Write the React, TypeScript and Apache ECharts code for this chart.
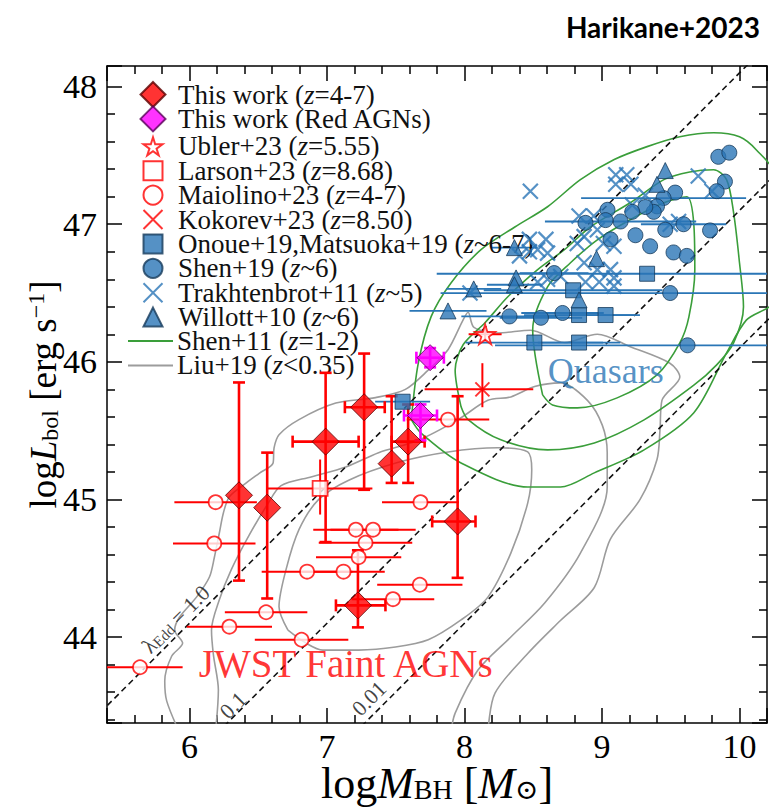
import React, { useEffect, useRef } from 'react';
import * as echarts from 'echarts';

const SERIF = "'Liberation Serif', 'DejaVu Serif', serif";
const X_MIN = 5.4;
const X_MAX = 10.2;
const Y_MIN = 43.375;
const Y_MAX = 48.15;

const RED = '#ff0000';
const MAGENTA = '#ff00ff';
const BLUE = '#2a76b6';
const BLUE_EDGE = '#15395a';
const GREEN = '#3a9e3a';
const GRAY = '#9c9c9c';

// [logM, logL, xErrLo, xErrHi, yErrLo, yErrHi]
const thisWork = [
  [6.36, 45.03, 0, 0, 0.62, 0.82],
  [6.565, 44.94, 0, 0, 0.66, 0.4],
  [6.99, 45.42, 0.24, 0.24, 0.73, 0.5],
  [7.27, 45.67, 0.14, 0.15, 0.6, 0.39],
  [7.59, 45.42, 0.12, 0.12, 0.3, 0.27],
  [7.47, 45.26, 0, 0, 0.14, 0.49],
  [7.95, 44.84, 0.185, 0.13, 0.41, 0.91],
  [7.225, 44.23, 0.16, 0.2, 0.16, 0.4],
];
const redAGN = [
  [7.75, 46.03, 0.1, 0.1, 0.07, 0.07],
  [7.68, 45.61, 0.12, 0.12, 0.18, 0.08],
];
const ubler = [[8.15, 46.2, 0.12, 0.12, 0.05, 0.05]];
const larson = [[6.95, 45.08, 0.38, 0.38, 0.19, 0.21]];
const kokorev = [[8.13, 45.8, 0.42, 0.37, 0.13, 0.19]];
// [logM, logL, xErr]
const maiolino = [
  [6.19, 44.98, 0.3], [6.18, 44.68, 0.3], [6.855, 44.475, 0.33], [7.12, 44.475, 0.3],
  [6.557, 44.18, 0.3], [6.29, 44.075, 0.31], [6.815, 43.98, 0.34], [5.64, 43.78, 0.31],
  [7.21, 44.78, 0.31], [7.335, 44.78, 0.31], [7.28, 44.685, 0.34], [7.23, 44.58, 0.31],
  [7.675, 44.38, 0.31], [7.48, 44.275, 0.3], [7.68, 44.98, 0.28], [7.88, 45.58, 0.3],
];
const onoue = [
  [9.328, 46.64, 1.53], [8.79, 46.52, 0.65], [8.833, 46.34, 0.4], [9.026, 46.34, 0.25],
  [8.508, 46.14, 0.5], [8.833, 46.14, 0.3], [7.55, 45.71, 0.2],
];
const shen19 = [
  [9.846, 47.49, 0], [9.926, 47.52, 0], [9.894, 47.31, 0], [9.834, 47.24, 0],
  [9.532, 47.23, 0], [9.448, 47.19, 0.6], [9.4, 47.13, 0], [9.376, 47.09, 0],
  [9.315, 47.125, 0], [9.22, 47.09, 0], [9.135, 47.02, 0.55], [9.04, 47.105, 0],
  [9.026, 47.03, 0], [8.88, 47.01, 0], [9.46, 46.96, 0], [9.593, 47.0, 0.31],
  [9.786, 46.955, 0], [9.243, 46.92, 0], [9.062, 46.89, 0], [9.35, 46.84, 0],
  [9.52, 46.795, 0], [9.617, 46.77, 0], [8.652, 46.645, 0.25], [9.496, 46.5, 1.67],
  [8.327, 46.33, 0.35], [8.556, 46.32, 0.3], [8.713, 46.355, 0.3], [9.622, 46.12, 1.4],
];
const trakhtenbrot = [
  [8.479, 47.24], [9.18, 47.36], [9.1, 47.36], [9.21, 47.29], [9.1, 47.29], [9.7, 47.35],
  [9.8, 47.24], [9.557, 47.02], [9.496, 47.0], [8.833, 47.06], [8.94, 47.06], [9.22, 47.14],
  [9.315, 47.21], [8.966, 46.96], [8.87, 46.91], [8.82, 46.86], [9.01, 46.86], [9.087, 46.84],
  [8.472, 46.89], [8.592, 46.89], [8.532, 46.815], [8.604, 46.79], [8.472, 46.8], [8.87, 46.72],
  [8.966, 46.67], [9.062, 46.67], [8.604, 46.6], [8.532, 46.58], [8.88, 46.58], [8.98, 46.58],
  [9.087, 46.61], [9.087, 46.55], [8.7, 46.62], [8.04, 46.5], [8.4, 46.77],
];
const willott = [
  [9.46, 47.39, 0], [9.4, 47.29, 0], [8.363, 46.83, 0.17], [8.067, 46.53, 0.2],
  [7.88, 46.37, 0.28], [8.375, 46.61, 0], [8.363, 46.56, 0.2], [8.96, 46.75, 0], [8.833, 46.45, 0],
];

const liuOuter = [
  [5.93, 43.3], [5.834, 43.536], [5.82, 43.68], [5.87, 43.86], [5.95, 43.956], [5.892, 44.05],
  [5.928, 44.145], [6.051, 44.29], [6.145, 44.436], [6.181, 44.58], [6.217, 44.756], [6.246, 44.9],
  [6.29, 45.02], [6.413, 45.12], [6.507, 45.19], [6.608, 45.265], [6.615, 45.375], [6.651, 45.47],
  [6.796, 45.58], [7.064, 45.7], [7.353, 45.74], [7.57, 45.8], [7.736, 45.94], [7.881, 46.09],
  [7.99, 46.305], [8.026, 46.36], [8.069, 46.25], [8.243, 46.21], [8.481, 46.23], [8.727, 46.14],
  [8.966, 46.2], [9.205, 46.11], [9.494, 45.99], [9.566, 45.89], [9.436, 45.72], [9.422, 45.51],
  [9.4, 45.29], [9.277, 45.0], [9.06, 44.71], [8.944, 44.36], [8.698, 44.12], [8.46, 43.88],
  [8.221, 43.59], [8.17, 43.3],
];
const liuMiddle = [
  [6.188, 43.3], [6.21, 43.615], [6.174, 43.87], [6.16, 44.05], [6.217, 44.27], [6.304, 44.49],
  [6.434, 44.74], [6.565, 44.96], [6.666, 45.1], [6.89, 45.165], [7.136, 45.236], [7.375, 45.34],
  [7.664, 45.43], [7.953, 45.58], [8.17, 45.72], [8.337, 45.745], [8.51, 45.82], [8.698, 45.847],
  [8.894, 45.72], [9.002, 45.54], [9.038, 45.34], [9.038, 45.09], [8.843, 44.61], [8.583, 44.247],
  [8.337, 44.0], [8.098, 43.76], [7.932, 43.447], [7.9, 43.3],
];
const liuInner = [
  [6.716, 44.05], [6.651, 44.22], [6.702, 44.49], [6.796, 44.78], [6.94, 45.0], [7.158, 45.14],
  [7.519, 45.27], [7.881, 45.345], [8.243, 45.375], [8.46, 45.345], [8.489, 45.215], [8.46, 44.975],
  [8.337, 44.61], [8.17, 44.29], [7.975, 44.124], [7.736, 43.98], [7.498, 43.927], [7.23, 43.905],
  [6.97, 43.905], [6.847, 43.956], [6.716, 44.05],
];
const shenOuter = [
  [7.613, 45.58], [7.664, 45.99], [7.758, 46.33], [7.903, 46.575], [8.12, 46.815], [8.366, 46.98],
  [8.604, 47.127], [8.843, 47.324], [9.089, 47.47], [9.328, 47.564], [9.566, 47.636], [9.812, 47.665],
  [10.0, 47.636], [10.123, 47.54], [10.25, 47.36], [10.25, 46.45], [10.051, 46.305], [9.906, 46.065],
  [9.668, 45.63], [9.306, 45.36], [8.944, 45.193], [8.698, 45.09], [8.46, 45.09], [7.975, 45.265],
  [7.686, 45.48], [7.613, 45.58],
];
const shenMiddle = [
  [7.975, 45.673], [7.932, 45.94], [7.99, 46.124], [8.149, 46.284], [8.315, 46.473], [8.532, 46.67],
  [8.727, 46.815], [8.915, 46.98], [9.205, 47.156], [9.45, 47.324], [9.638, 47.38], [9.812, 47.396],
  [9.906, 47.324], [9.957, 47.084], [10.0, 46.72], [10.029, 46.4], [9.957, 46.138], [9.834, 45.978],
  [9.668, 45.83], [9.306, 45.578], [8.944, 45.41], [8.604, 45.36], [8.264, 45.433], [8.026, 45.58],
  [7.975, 45.673],
];
const shenInner = [
  [8.568, 45.76], [8.496, 46.233], [8.604, 46.545], [8.771, 46.72], [8.966, 46.887], [9.205, 47.033],
  [9.45, 47.156], [9.617, 47.2], [9.668, 46.996], [9.675, 46.67], [9.632, 46.327], [9.566, 46.138],
  [9.4, 45.905], [9.11, 45.738], [8.821, 45.665], [8.64, 45.687], [8.568, 45.76],
];
const eddLines = [
  [[5.3, 43.4], [10.1, 48.2]],
  [[6.2, 43.3], [10.3, 47.4]],
  [[7.2, 43.3], [10.3, 46.4]],
];
const eddLabels = [
  { text: '\u03bb{sub|Edd} = 1.0', pos: [5.9, 44.13] },
  { text: '0.1', pos: [6.316, 43.505] },
  { text: '0.01', pos: [7.305, 43.554] },
];

const STAR = 'path://M50,0 L61,35 L98,35 L68,57 L79,91 L50,70 L21,91 L32,57 L2,35 L39,35 Z';
const CROSS = 'path://M0,0 L10,10 M10,0 L0,10';

const full = (rows: number[][]) => rows.map((r) => [r[0], r[1], r[2] || 0, r[2] || 0, 0, 0]);

function errorBars(rows: number[][], color: string, lineWidth: number, cap: number, z: number) {
  return {
    type: 'custom',
    silent: true,
    clip: true,
    z,
    data: rows,
    encode: { x: 0, y: 1 },
    renderItem: (params: any, api: any) => {
      const x = api.value(0);
      const y = api.value(1);
      const xl = api.value(2);
      const xh = api.value(3);
      const yl = api.value(4);
      const yh = api.value(5);
      const style = { stroke: color, lineWidth };
      const children: any[] = [];
      if (xl > 0 || xh > 0) {
        const a = api.coord([Math.max(x - xl, X_MIN - 0.05), y]);
        const b = api.coord([Math.min(x + xh, X_MAX + 0.05), y]);
        children.push({ type: 'line', shape: { x1: a[0], y1: a[1], x2: b[0], y2: b[1] }, style });
        if (cap > 0) {
          children.push({ type: 'line', shape: { x1: a[0], y1: a[1] - cap, x2: a[0], y2: a[1] + cap }, style });
          children.push({ type: 'line', shape: { x1: b[0], y1: b[1] - cap, x2: b[0], y2: b[1] + cap }, style });
        }
      }
      if (yl > 0 || yh > 0) {
        const a = api.coord([x, y - yl]);
        const b = api.coord([x, y + yh]);
        children.push({ type: 'line', shape: { x1: a[0], y1: a[1], x2: b[0], y2: b[1] }, style });
        if (cap > 0) {
          children.push({ type: 'line', shape: { x1: a[0] - cap, y1: a[1], x2: a[0] + cap, y2: a[1] }, style });
          children.push({ type: 'line', shape: { x1: b[0] - cap, y1: b[1], x2: b[0] + cap, y2: b[1] }, style });
        }
      }
      return { type: 'group', children };
    },
  };
}

const contour = (name: string, pts: number[][], color: string) => ({
  type: 'line',
  name,
  data: pts,
  symbol: 'none',
  smooth: 0.3,
  clip: true,
  silent: true,
  z: 1,
  lineStyle: { color, width: 1.6 },
  itemStyle: { color },
});

const pt = (rows: number[][]) => rows.map((r) => [r[0], r[1]]);

// legend rows: name and icon kind
const LEGEND_ROWS = [
  { name: 'This work (z=4-7)', kind: 'big' },
  { name: 'This work (Red AGNs)', kind: 'big' },
  { name: 'Ubler+23 (z=5.55)', kind: 'mark' },
  { name: 'Larson+23 (z=8.68)', kind: 'mark' },
  { name: 'Maiolino+23 (z=4-7)', kind: 'mark' },
  { name: 'Kokorev+23 (z=8.50)', kind: 'mark' },
  { name: 'Onoue+19,Matsuoka+19 (z~6-7)', kind: 'mark' },
  { name: 'Shen+19 (z~6)', kind: 'mark' },
  { name: 'Trakhtenbrot+11 (z~5)', kind: 'mark' },
  { name: 'Willott+10 (z~6)', kind: 'mark' },
  { name: 'Shen+11 (z=1-2)', kind: 'line' },
  { name: 'Liu+19 (z<0.35)', kind: 'line' },
];

const LEG_FONT = 27;
const LEG_TOP = 93.5;
const LEG_STEP = 24.4;
const LEG_CENTER_X = 152;
const LEG_TEXT_X = 177;

const legendFmt = (name: string) => name.replace('(z', '({i|z}');

function legendRow(row: { name: string; kind: string }, i: number) {
  const cy = LEG_TOP + LEG_STEP * i;
  let w = 19;
  let h = 19;
  let left = LEG_CENTER_X - 9.5;
  let lh = 19;
  if (row.kind === 'big') {
    w = 25; h = 25; left = LEG_CENTER_X - 12.5; lh = 25;
  } else if (row.kind === 'line') {
    w = 45; h = 2; left = 128; lh = 20;
  }
  const pad = LEG_TEXT_X - (left + w + 5);
  return {
    data: [row.kind === 'line' ? { name: row.name, icon: 'rect' } : row.name],
    orient: 'vertical',
    padding: 0,
    itemGap: 0,
    selectedMode: false,
    left,
    top: row.kind === 'line' ? cy - lh / 2 : cy - h / 2,
    itemWidth: w,
    itemHeight: h,
    formatter: legendFmt,
    textStyle: {
      fontFamily: SERIF,
      fontSize: LEG_FONT,
      lineHeight: lh,
      color: '#111',
      padding: [0, 0, 0, pad],
      rich: { i: { fontStyle: 'italic', fontFamily: SERIF, fontSize: LEG_FONT, lineHeight: lh, color: '#111' } },
    },
  };
}

const axisCommon = {
  type: 'value',
  splitLine: { show: false },
  axisLine: { show: true, onZero: false, lineStyle: { color: '#000', width: 1.5 } },
  axisTick: { show: true, inside: true, length: 15, lineStyle: { color: '#000', width: 1.5 } },
  minorTick: { show: true, splitNumber: 5, length: 8, lineStyle: { color: '#000', width: 1.5 } },
  splitNumber: 5,
};

const intLabel = (v: number) => (Math.abs(v - Math.round(v)) < 1e-6 ? String(Math.round(v)) : '');

export default function App() {
  const ref = useRef<HTMLDivElement>(null);
  useEffect(() => {
    if (!ref.current) return;
    const chart = echarts.init(ref.current, null, { renderer: 'svg' });
    const series: any[] = [
      contour('Liu+19 (z<0.35)', liuOuter, GRAY),
      contour('Liu+19 (z<0.35)', liuMiddle, GRAY),
      contour('Liu+19 (z<0.35)', liuInner, GRAY),
      contour('Shen+11 (z=1-2)', shenOuter, GREEN),
      contour('Shen+11 (z=1-2)', shenMiddle, GREEN),
      contour('Shen+11 (z=1-2)', shenInner, GREEN),
      ...eddLines.map((l) => ({
        type: 'line',
        data: l,
        symbol: 'none',
        silent: true,
        clip: true,
        z: 2,
        lineStyle: { color: '#111', width: 1.6, type: [6, 4] },
      })),
      errorBars(full(onoue), BLUE, 1.8, 0, 3),
      errorBars(full(shen19), BLUE, 1.8, 0, 3),
      errorBars(full(willott), BLUE, 1.8, 0, 3),
      errorBars(full(maiolino), RED, 2, 0, 4),
      errorBars(larson, RED, 2, 0, 4),
      errorBars(kokorev, RED, 2, 0, 4),
      errorBars(ubler, RED, 2, 0, 4),
      errorBars(thisWork, RED, 2.6, 6, 5),
      errorBars(redAGN, MAGENTA, 2.6, 6, 5),
      {
        type: 'scatter', name: 'Trakhtenbrot+11 (z~5)', symbol: CROSS, symbolSize: 15, z: 6,
        data: trakhtenbrot,
        itemStyle: { color: BLUE, borderColor: BLUE, borderWidth: 2.2 },
      },
      {
        type: 'scatter', name: 'Onoue+19,Matsuoka+19 (z~6-7)', symbol: 'rect', symbolSize: 15, z: 6,
        data: pt(onoue),
        itemStyle: { color: BLUE, borderColor: BLUE_EDGE, borderWidth: 1 },
      },
      {
        type: 'scatter', name: 'Shen+19 (z~6)', symbol: 'circle', symbolSize: 15, z: 6,
        data: pt(shen19),
        itemStyle: { color: BLUE, borderColor: BLUE_EDGE, borderWidth: 1 },
      },
      {
        type: 'scatter', name: 'Willott+10 (z~6)', symbol: 'triangle', symbolSize: 16, z: 6,
        data: pt(willott),
        itemStyle: { color: BLUE, borderColor: BLUE_EDGE, borderWidth: 1 },
      },
      {
        type: 'scatter', name: 'Maiolino+23 (z=4-7)', symbol: 'circle', symbolSize: 14, z: 7,
        data: pt(maiolino),
        itemStyle: { color: '#fff', borderColor: RED, borderWidth: 1.8 },
      },
      {
        type: 'scatter', name: 'Larson+23 (z=8.68)', symbol: 'rect', symbolSize: 15, z: 7,
        data: pt(larson),
        itemStyle: { color: '#fff', borderColor: RED, borderWidth: 1.8 },
      },
      {
        type: 'scatter', name: 'Kokorev+23 (z=8.50)', symbol: CROSS, symbolSize: 14, z: 7,
        data: pt(kokorev),
        itemStyle: { color: RED, borderColor: RED, borderWidth: 2 },
      },
      {
        type: 'scatter', name: 'Ubler+23 (z=5.55)', symbol: STAR, symbolSize: 20, z: 7,
        data: pt(ubler),
        itemStyle: { color: '#fff', borderColor: RED, borderWidth: 1.8 },
      },
      {
        type: 'scatter', name: 'This work (Red AGNs)', symbol: 'diamond', symbolSize: 26, z: 8,
        data: pt(redAGN),
        itemStyle: { color: MAGENTA, borderColor: '#5a005a', borderWidth: 1 },
      },
      {
        type: 'scatter', name: 'This work (z=4-7)', symbol: 'diamond', symbolSize: 27, z: 8,
        data: pt(thisWork),
        itemStyle: { color: RED, borderColor: '#5a0000', borderWidth: 1 },
      },
      {
        type: 'scatter', silent: true, symbolSize: 1, z: 9,
        itemStyle: { color: 'transparent' },
        data: [
          {
            value: [7.136, 43.804],
            label: { show: true, position: 'inside', formatter: 'JWST Faint AGNs', color: RED, fontSize: 39, fontFamily: SERIF },
          },
          {
            value: [9.027, 45.935],
            label: { show: true, position: 'inside', formatter: 'Quasars', color: BLUE, fontSize: 36, fontFamily: SERIF },
          },
          ...eddLabels.map((e) => ({
            value: e.pos,
            label: {
              show: true, position: 'inside', formatter: e.text, rotate: 45, color: '#111',
              fontSize: 22, fontFamily: SERIF,
              rich: { sub: { fontSize: 15, fontFamily: SERIF, color: '#111', verticalAlign: 'bottom', lineHeight: 12 } },
            },
          })),
        ],
      },
    ];

    const titleRich = (fs: number, lh: number) => ({
      i: { fontStyle: 'italic', fontFamily: SERIF, fontSize: fs, color: '#000', lineHeight: lh },
      sub: { fontFamily: SERIF, fontSize: Math.round(fs * 0.64), color: '#000', verticalAlign: 'bottom', lineHeight: Math.round(lh * 0.52) },
      sup: { fontFamily: SERIF, fontSize: Math.round(fs * 0.64), color: '#000', verticalAlign: 'top', lineHeight: Math.round(lh * 0.52) },
    });

    chart.setOption({
      animation: false,
      backgroundColor: '#fff',
      title: {
        text: 'Harikane+2023',
        right: 5,
        top: 8,
        textStyle: { fontFamily: 'Lato', fontWeight: 'bold', fontSize: 28, color: '#000' },
      },
      grid: { left: 107, right: 3, top: 66, bottom: 86, containLabel: false, outerBoundsMode: 'none' },
      legend: LEGEND_ROWS.map(legendRow),
      xAxis: [
        {
          ...axisCommon,
          min: X_MIN,
          max: X_MAX,
          position: 'bottom',
          axisLabel: { formatter: intLabel, fontFamily: SERIF, fontSize: 34, lineHeight: 32, color: '#000', margin: 7 },
          name: 'log{i|M}{sub|BH} [{i|M}{sub|\u2299}]',
          nameLocation: 'middle',
          nameGap: 40,
          nameMoveOverlap: false,
          nameTextStyle: { fontFamily: SERIF, fontSize: 44, color: '#000', lineHeight: 40, rich: titleRich(44, 40) },
        },
        {
          ...axisCommon,
          min: X_MIN,
          max: X_MAX,
          position: 'top',
          axisLabel: { show: false },
        },
      ],
      yAxis: [
        {
          ...axisCommon,
          min: Y_MIN,
          max: Y_MAX,
          position: 'left',
          axisLabel: { formatter: intLabel, fontFamily: SERIF, fontSize: 34, color: '#000', margin: 10 },
          name: 'log{i|L}{sub|bol} [erg s{sup|\u22121}]',
          nameLocation: 'middle',
          nameGap: 45,
          nameMoveOverlap: false,
          nameTextStyle: { fontFamily: SERIF, fontSize: 37, color: '#000', lineHeight: 38, rich: titleRich(37, 38) },
        },
        {
          ...axisCommon,
          min: Y_MIN,
          max: Y_MAX,
          position: 'right',
          axisLabel: { show: false },
        },
      ],
      series,
    });
    return () => chart.dispose();
  }, []);
  return (
    <div
      ref={ref}
      style={{ position: 'absolute', left: 0, top: 0, width: 770, height: 809, background: '#fff' }}
    />
  );
}
